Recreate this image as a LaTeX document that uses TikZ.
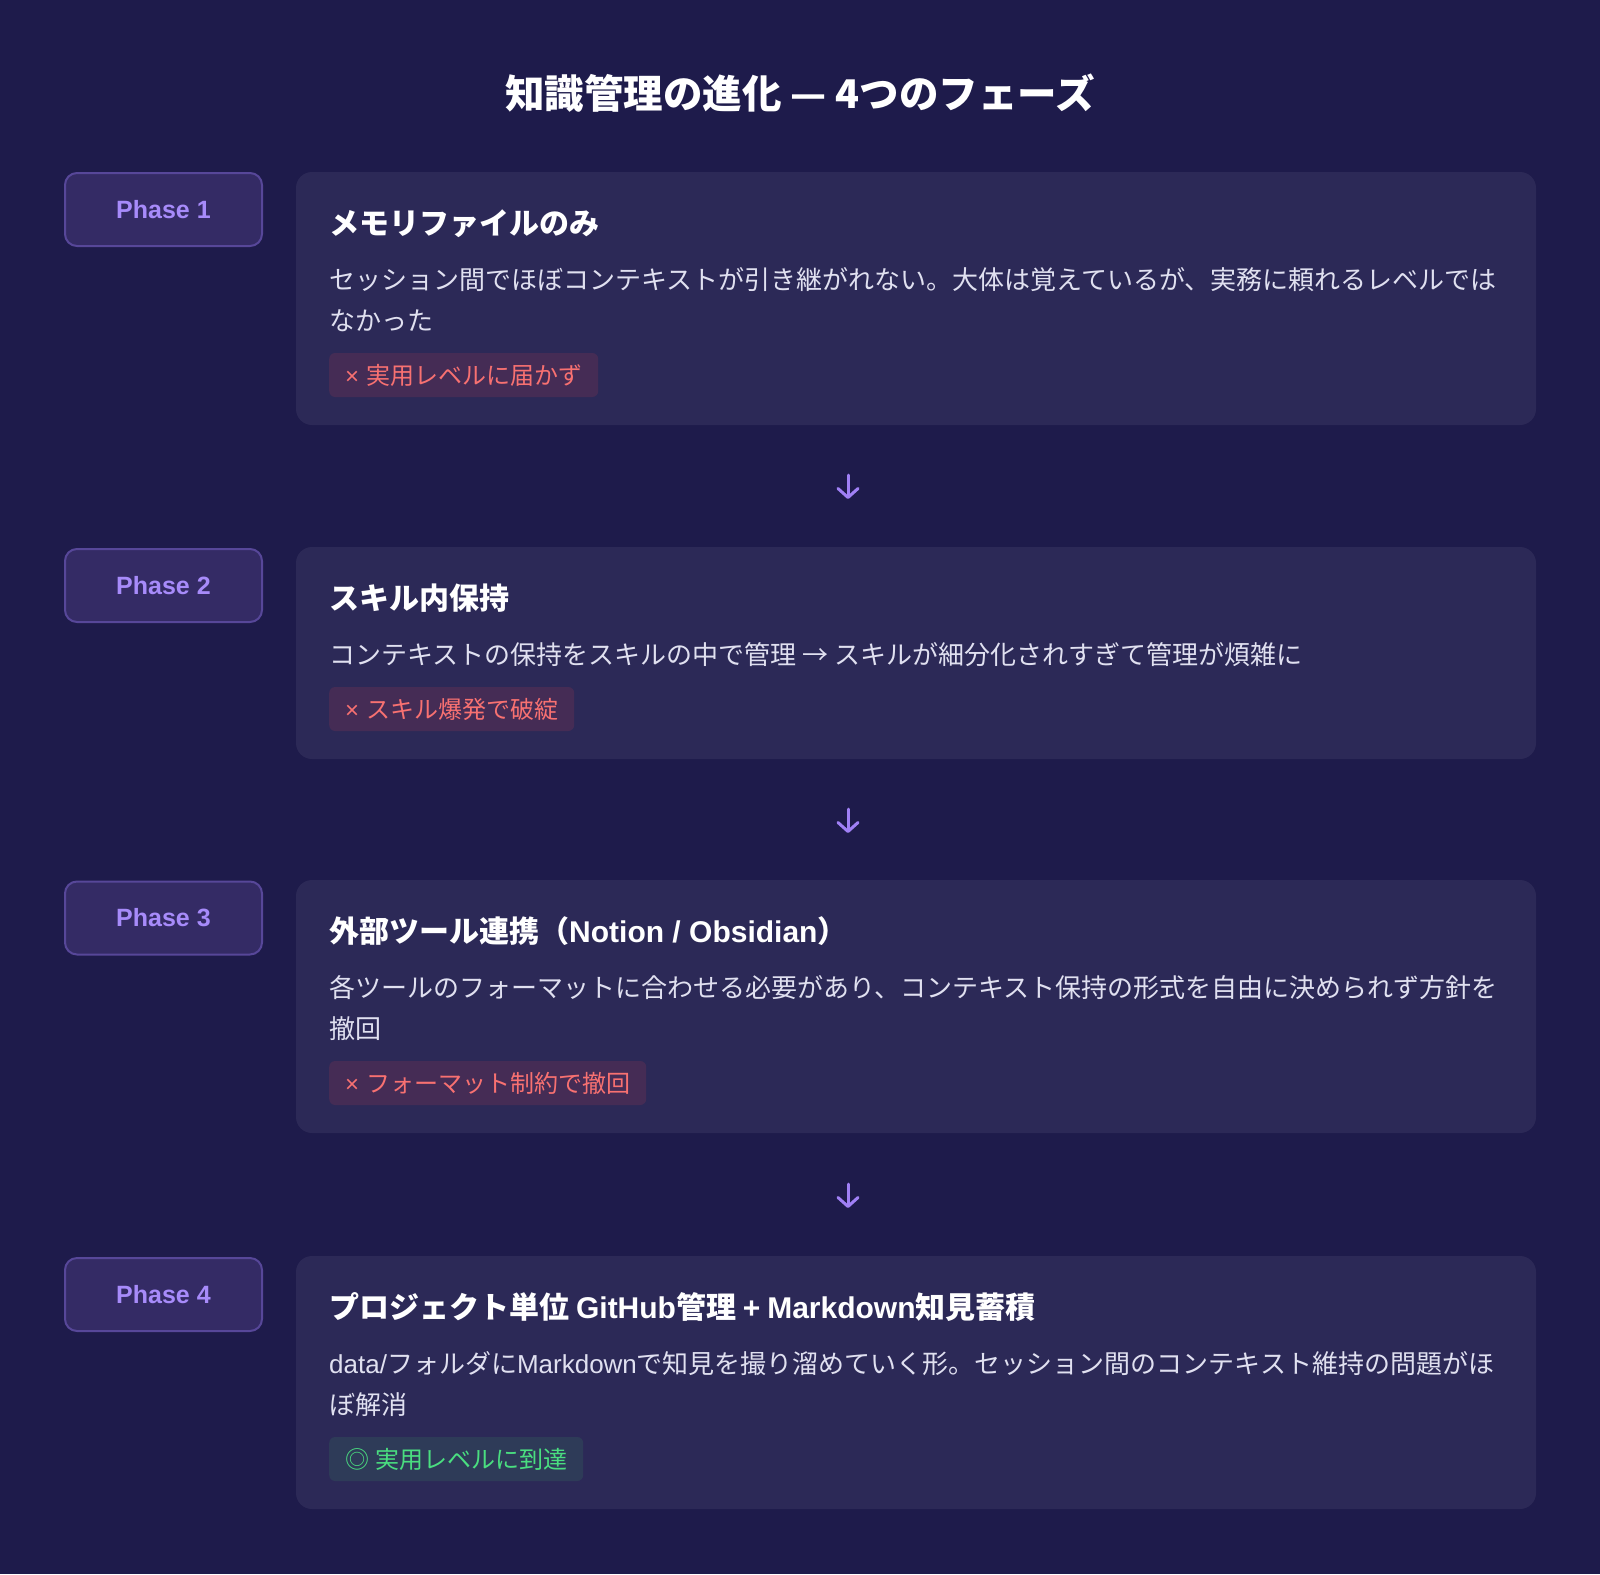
\documentclass[tikz,border=0pt]{standalone}
\usepackage{fontspec}
\setmainfont{Noto Sans CJK JP}
\newfontfamily\lat{Liberation Sans}
\usetikzlibrary{arrows.meta}
\definecolor{bg}{HTML}{1E1B4B}
\definecolor{cardfill}{HTML}{2C2957}
\definecolor{badgefill}{HTML}{342B65}
\definecolor{badgeborder}{HTML}{574799}
\definecolor{badgetext}{HTML}{A78BFA}
\definecolor{arrowc}{HTML}{A080F5}
\definecolor{desctext}{HTML}{E0E0F0}
\definecolor{redfill}{HTML}{452C55}
\definecolor{redtext}{HTML}{F87171}
\definecolor{greenfill}{HTML}{2E3B58}
\definecolor{greentext}{HTML}{4ADE80}
\begin{document}
\begin{tikzpicture}[x=1pt,y=-1pt,
  card/.style={fill=cardfill, rounded corners=16pt, minimum width=1240pt, inner sep=0pt},
  badge/.style={draw=badgeborder, line width=2pt, fill=badgefill, rounded corners=12pt,
    minimum width=197pt, minimum height=73pt, inner sep=0pt, text=badgetext,
    font=\lat\bfseries\fontsize{25}{29}\selectfont},
  maintitle/.style={anchor=base, inner sep=0pt, text=white, font=\bfseries\fontsize{39.5}{46}\selectfont},
  cardtitle/.style={anchor=base west, inner sep=0pt, text=white, font=\bfseries\fontsize{30}{36}\selectfont},
  desc/.style={anchor=base west, inner sep=0pt, text=desctext, font=\fontsize{26}{41}\selectfont},
  tagbox/.style={anchor=west, inner xsep=16pt, inner ysep=0pt, minimum height=44pt,
    rounded corners=6pt, text height=21pt, text depth=3pt, font=\fontsize{24}{28}\selectfont},
  badtag/.style={tagbox, fill=redfill, text=redtext},
  goodtag/.style={tagbox, fill=greenfill, text=greentext},
  flow/.style={draw=arrowc, line width=3pt, line cap=round,
    -{Straight Barb[length=9pt,width=20pt,line cap=round,line join=round]}}
]
\fill[bg] (0,0) rectangle (1600,1574);
\useasboundingbox (0,0) rectangle (1600,1574);

\node[maintitle] (title) at (800,108) {知識管理の進化 — 4つのフェーズ};

% cards
\node[card, minimum height=253pt] (c1) at (916,298.5) {};
\node[card, minimum height=212pt] (c2) at (916,653) {};
\node[card, minimum height=253pt] (c3) at (916,1006.5) {};
\node[card, minimum height=253pt] (c4) at (916,1382.5) {};

% badges
\node[badge] (b1) at (163.5,209.5) {Phase 1};
\node[badge] (b2) at (163.5,585.5) {Phase 2};
\node[badge] (b3) at (163.5,918) {Phase 3};
\node[badge] (b4) at (163.5,1294.5) {Phase 4};

% card 1
\node[cardtitle] (t1) at (329,234) {メモリファイルのみ};
\node[desc] (d1a) at (329,289) {セッション間でほぼコンテキストが引き継がれない。大体は覚えているが、実務に頼れるレベルでは};
\node[desc] (d1b) at (329,330) {なかった};
\node[badtag] (g1) at (329,375) {{\lat ×}\hspace{7pt}実用レベルに届かず};

% card 2
\node[cardtitle] (t2) at (329,609) {スキル内保持};
\node[desc] (d2a) at (329,664) {コンテキストの保持をスキルの中で管理 → スキルが細分化されすぎて管理が煩雑に};
\node[badtag] (g2) at (329,709) {{\lat ×}\hspace{7pt}スキル爆発で破綻};

% card 3
\node[cardtitle] (t3) at (329,942) {外部ツール連携（{\lat Notion / Obsidian}）};
\node[desc] (d3a) at (329,997) {各ツールのフォーマットに合わせる必要があり、コンテキスト保持の形式を自由に決められず方針を};
\node[desc] (d3b) at (329,1038) {撤回};
\node[badtag] (g3) at (329,1083) {{\lat ×}\hspace{7pt}フォーマット制約で撤回};

% card 4
\node[cardtitle] (t4) at (329,1318) {プロジェクト単位 {\lat GitHub}管理 {\lat +} {\lat Markdown}知見蓄積};
\node[desc] (d4a) at (329,1373) {{\lat data/}フォルダに{\lat Markdown}で知見を撮り溜めていく形。セッション間のコンテキスト維持の問題がほ};
\node[desc] (d4b) at (329,1414) {ぼ解消};
\node[goodtag] (g4) at (329,1459) {◎\hspace{6pt}実用レベルに到達};

% arrows
\coordinate (a1s) at (848,475);
\coordinate (a1e) at (848,499);
\coordinate (a2s) at (848,809);
\coordinate (a2e) at (848,833);
\coordinate (a3s) at (848,1184);
\coordinate (a3e) at (848,1208);
\draw[flow] (a1s) -- (a1e);
\draw[flow] (a2s) -- (a2e);
\draw[flow] (a3s) -- (a3e);
\end{tikzpicture}
\end{document}
